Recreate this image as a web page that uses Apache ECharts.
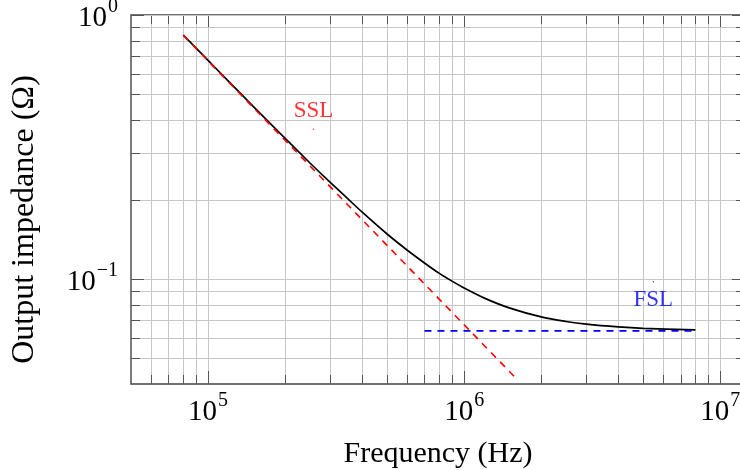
<!DOCTYPE html>
<html><head><meta charset="utf-8">
<script src="https://cdn.jsdelivr.net/npm/echarts@6/dist/echarts.min.js"></script>
<style>html,body{margin:0;padding:0;background:#fff}#c{width:740px;height:470px}</style>
</head><body><div id="c"></div>
<script>
// ---- data ----
const freqTotal = [8e4, 1e5, 1.2e5, 1.5e5, 2e5, 2.5e5, 3e5, 3.5e5, 4e5, 5e5, 6e5, 7e5, 8e5, 9e5, 1e6, 1.2e6, 1.5e6, 2e6, 2.5e6, 3e6, 4e6, 5e6, 8e6];
const impTotal  = [0.840, 0.673, 0.562, 0.451, 0.341, 0.275, 0.232, 0.202, 0.179, 0.148, 0.1285, 0.115, 0.105, 0.0979, 0.0924, 0.0846, 0.0777, 0.0718, 0.0690, 0.0674, 0.0658, 0.0650, 0.0641];
const freqSSL = [8e4, 1.6e6];
const impSSL  = [0.8375, 0.0419];
const freqFSL = [7e5, 8e6];
const impFSL  = [0.0636, 0.0636];
const pinSSL = [2.58e5, 0.369];
const pinFSL = [5.48e6, 0.0975];
const xRange = [5e4, 1.25e7];
const yRange = [0.04, 1];
const xMajorTicks = [1e5, 1e6, 1e7];
const xMinorTicks = [6e4, 7e4, 8e4, 9e4, 2e5, 3e5, 4e5, 5e5, 6e5, 7e5, 8e5, 9e5, 2e6, 3e6, 4e6, 5e6, 6e6, 7e6, 8e6, 9e6];
const yMajorTicks = [0.1, 1];
const yMinorTicks = [0.05, 0.06, 0.07, 0.08, 0.09, 0.2, 0.3, 0.4, 0.5, 0.6, 0.7, 0.8, 0.9];
const xTitle = 'Frequency (Hz)';
const yTitle = 'Output impedance (Ω)';

const zip = (a, b) => a.map((v, i) => [v, b[i]]);
const serif = 'Liberation Serif, Times New Roman, serif';
const GRID_C = '#c6c6c6', TICK_C = '#555';

function vLines(len) {
  return function (params, api) {
    const cs = params.coordSys;
    const x = Math.round(api.coord([api.value(0), api.value(1)])[0]) + 0.5;
    const top = cs.y, bot = cs.y + cs.height;
    return { type: 'group', children: [
      { type: 'line', shape: { x1: x, y1: top, x2: x, y2: bot }, style: { stroke: GRID_C, lineWidth: 1 } },
      { type: 'line', shape: { x1: x, y1: bot - len, x2: x, y2: bot }, style: { stroke: TICK_C, lineWidth: 1 } },
      { type: 'line', shape: { x1: x, y1: top, x2: x, y2: top + len }, style: { stroke: TICK_C, lineWidth: 1 } }
    ]};
  };
}
function hLines(len) {
  return function (params, api) {
    const cs = params.coordSys;
    const y = Math.round(api.coord([api.value(0), api.value(1)])[1]) + 0.5;
    const l = cs.x, r = cs.x + cs.width;
    return { type: 'group', children: [
      { type: 'line', shape: { x1: l, y1: y, x2: r, y2: y }, style: { stroke: GRID_C, lineWidth: 1 } },
      { type: 'line', shape: { x1: l, y1: y, x2: l + len, y2: y }, style: { stroke: TICK_C, lineWidth: 1 } },
      { type: 'line', shape: { x1: r - len, y1: y, x2: r, y2: y }, style: { stroke: TICK_C, lineWidth: 1 } }
    ]};
  };
}
function powLabel(v) {
  const e = Math.log10(v), r = Math.round(e);
  if (Math.abs(e - r) > 1e-6) return '';
  return '{b|10}{s|' + (r < 0 ? '\u2212' + (-r) : r) + '}';
}
const rich = {
  b: { fontSize: 29, fontFamily: serif, color: '#000', lineHeight: 36, verticalAlign: 'bottom' },
  s: { fontSize: 20, fontFamily: serif, color: '#000', lineHeight: 22, verticalAlign: 'top', padding: [0, 0, 0, 1] }
};

const chart = echarts.init(document.getElementById('c'), null, { renderer: 'canvas' });
chart.setOption({
  animation: false,
  backgroundColor: '#fff',
  grid: { left: 131, top: 15, bottom: 86, right: -5, show: true, borderColor: '#444', borderWidth: 1.4,
    backgroundColor: 'transparent', containLabel: false, outerBoundsMode: 'none' },
  xAxis: {
    type: 'log', logBase: 10, min: xRange[0], max: xRange[1],
    name: xTitle, nameLocation: 'middle', nameGap: 55,
    nameTextStyle: { fontFamily: serif, fontSize: 30, color: '#000' },
    axisLine: { show: false }, axisTick: { show: false }, splitLine: { show: false }, minorSplitLine: { show: false },
    axisLabel: { formatter: powLabel, rich: rich, margin: 7, showMinLabel: false, showMaxLabel: false }
  },
  yAxis: {
    type: 'log', logBase: 10, min: yRange[0], max: yRange[1],
    name: yTitle, nameLocation: 'middle', nameGap: 90, nameRotate: 90,
    nameTextStyle: { fontFamily: serif, fontSize: 32, color: '#000', padding: [0, 40, 0, 0] },
    axisLine: { show: false }, axisTick: { show: false }, splitLine: { show: false },
    axisLabel: { formatter: powLabel, rich: rich, margin: 13, showMinLabel: false }
  },
  series: [
    { type: 'custom', silent: true, z: 1, renderItem: vLines(9), data: xMinorTicks.map(v => [v, yRange[0]]) },
    { type: 'custom', silent: true, z: 1, renderItem: vLines(13), data: xMajorTicks.map(v => [v, yRange[0]]) },
    { type: 'custom', silent: true, z: 1, renderItem: hLines(9), data: yMinorTicks.map(v => [xRange[0], v]) },
    { type: 'custom', silent: true, z: 1, renderItem: hLines(13), data: yMajorTicks.map(v => [xRange[0], v]) },
    { name: 'Total', type: 'line', z: 3, data: zip(freqTotal, impTotal), showSymbol: false, smooth: 0.3,
      lineStyle: { color: '#000', width: 1.7 } },
    { name: 'SSL', type: 'line', z: 4, data: zip(freqSSL, impSSL), showSymbol: false,
      lineStyle: { color: '#ff0000', width: 1.6, type: [7, 6] } },
    { name: 'FSL', type: 'line', z: 4, data: zip(freqFSL, impFSL), showSymbol: false,
      lineStyle: { color: '#0000ff', width: 1.6, type: [7, 6] } },
    { type: 'scatter', z: 5, data: [pinSSL], symbolSize: 1.5, itemStyle: { color: '#ff0000' },
      label: { show: true, formatter: 'SSL', position: 'top', distance: 6, color: '#ff0000', fontFamily: serif, fontSize: 23 } },
    { type: 'scatter', z: 5, data: [pinFSL], symbolSize: 1.5, itemStyle: { color: '#0000ff' },
      label: { show: true, formatter: 'FSL', position: 'bottom', distance: 6, color: '#0000ff', fontFamily: serif, fontSize: 23 } }
  ]
});
</script>
</body></html>
